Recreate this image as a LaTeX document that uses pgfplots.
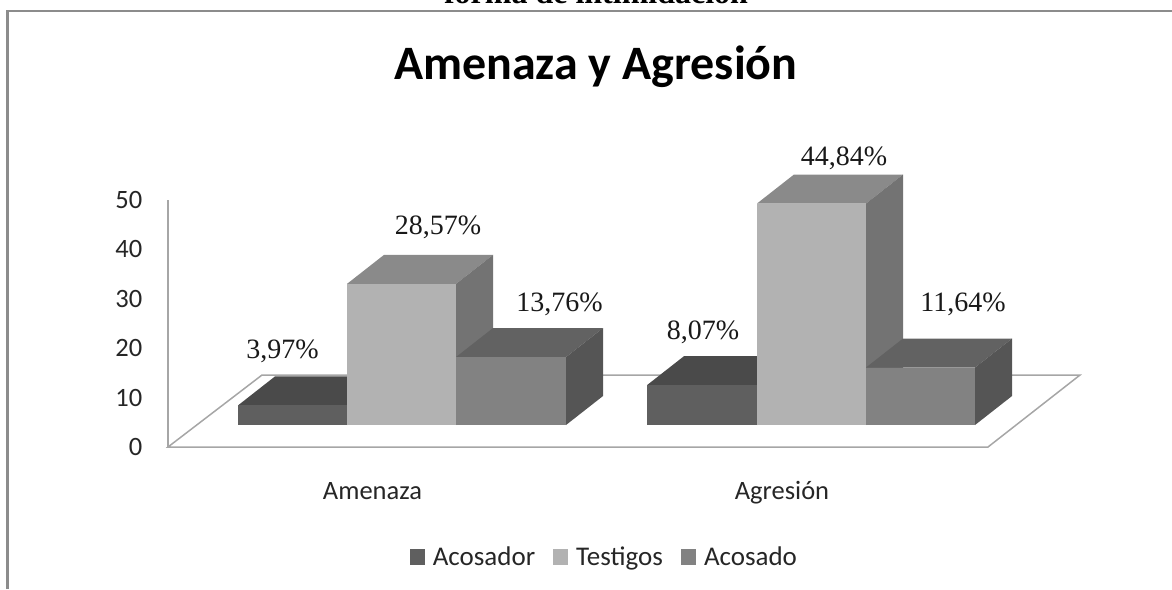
\documentclass[border=0pt]{standalone}
\usepackage{fontspec}
\setmainfont{Carlito}
\newfontfamily\serif{Liberation Serif}
\usepackage{pgfplots}
\pgfplotsset{compat=1.18}

\definecolor{acosadorF}{HTML}{5F5F5F}
\definecolor{acosadorT}{HTML}{4A4A4A}
\definecolor{testigosF}{HTML}{B2B2B2}
\definecolor{testigosT}{HTML}{8A8A8A}
\definecolor{testigosS}{HTML}{737373}
\definecolor{acosadoF}{HTML}{828282}
\definecolor{acosadoT}{HTML}{626262}
\definecolor{acosadoS}{HTML}{555555}
\definecolor{frame}{HTML}{8C8C8C}
\definecolor{axisgray}{HTML}{A6A6A6}

% x left, x right, value, front, top, side
\newcommand{\caja}[6]{
  \addplot[fill=#5,draw=none,forget plot] coordinates
    {(#1,{#3+4.45}) (#2,{#3+4.45}) ({#2+37},{#3+10.32}) ({#1+37},{#3+10.32})} --cycle;
  \addplot[fill=#6,draw=none,forget plot] coordinates
    {(#2,4.45) ({#2+37},10.32) ({#2+37},{#3+10.32}) (#2,{#3+4.45})} --cycle;
  \addplot[fill=#4,draw=none,forget plot] coordinates
    {(#1,4.45) (#2,4.45) (#2,{#3+4.45}) (#1,{#3+4.45})} --cycle;
}
\newcommand{\etiqueta}[3]{\node[font=\serif\fontsize{28}{30}\selectfont,text=black!90] at (axis cs:#1,#2) {#3};}

\begin{document}
\begin{tikzpicture}
\path[use as bounding box] (0,0) rectangle (1172pt,589pt);
\clip (0,0) rectangle (1172pt,589pt);
\node[anchor=base,font=\serif\bfseries\fontsize{32}{34}\selectfont] at (596pt,585.5pt) {forma de intimidación};
\draw[frame,line width=2.5pt] (7.5pt,0pt) -- (7.5pt,578pt) -- (1172pt,578pt);
\begin{axis}[
  at={(168pt,142pt)},anchor=south west,
  width=912pt,height=247pt,scale only axis,
  xmin=168,xmax=1080,ymin=0,ymax=50,
  clip=false,
  axis x line=bottom,axis y line=left,
  x axis line style={draw=none,-},
  y axis line style={draw=axisgray,line width=1.3pt,-},
  tick style={draw=none},
  ytick={0,10,20,30,40,50},
  xtick={372.5,782},
  xticklabels={Amenaza,Agresión},
  /pgf/number format/assume math mode=true,
  tick label style={font=\fontsize{26.5}{30}\selectfont,text=black!85},
  yticklabel style={xshift=-20pt},
  xticklabel style={anchor=base,yshift=-50pt},
  title={Amenaza y Agresión},
  title style={at={(0.469,1.462)},anchor=base,font=\bfseries\fontsize{48}{52}\selectfont},
  legend columns=-1,
  legend style={at={(0.4785,-0.445)},anchor=center,draw=none,fill=none,
    font=\fontsize{27}{30}\selectfont,text=black!85,
    /tikz/every even column/.append style={column sep=16pt}},
  legend image code/.code={\fill[#1] (0pt,-8pt) rectangle (15pt,8pt);\path (21pt,0pt);},
]
% suelo
\addplot[draw=axisgray,line width=1.5pt,forget plot] coordinates
  {(168,0) (262,14.57) (1080,14.57) (988,0)} --cycle;

% Amenaza
\caja{238}{347}{3.97}{acosadorF}{acosadorT}{acosadorT}
\caja{347}{456}{28.57}{testigosF}{testigosT}{testigosS}
\caja{456}{566}{13.76}{acosadoF}{acosadoT}{acosadoS}
% Agresion
\caja{647}{757}{8.07}{acosadorF}{acosadorT}{acosadorT}
\caja{757}{866}{44.84}{testigosF}{testigosT}{testigosS}
\caja{866}{975}{11.64}{acosadoF}{acosadoT}{acosadoS}

\etiqueta{282.5}{19.4}{3,97\%}
\etiqueta{438}{44.4}{28,57\%}
\etiqueta{559.5}{28.9}{13,76\%}
\etiqueta{703}{23.3}{8,07\%}
\etiqueta{844}{58.5}{44,84\%}
\etiqueta{963}{28.9}{11,64\%}

\addlegendimage{fill=acosadorF,draw=none}
\addlegendimage{fill=testigosF,draw=none}
\addlegendimage{fill=acosadoF,draw=none}
\legend{Acosador,Testigos,Acosado}
\end{axis}
\end{tikzpicture}
\end{document}
